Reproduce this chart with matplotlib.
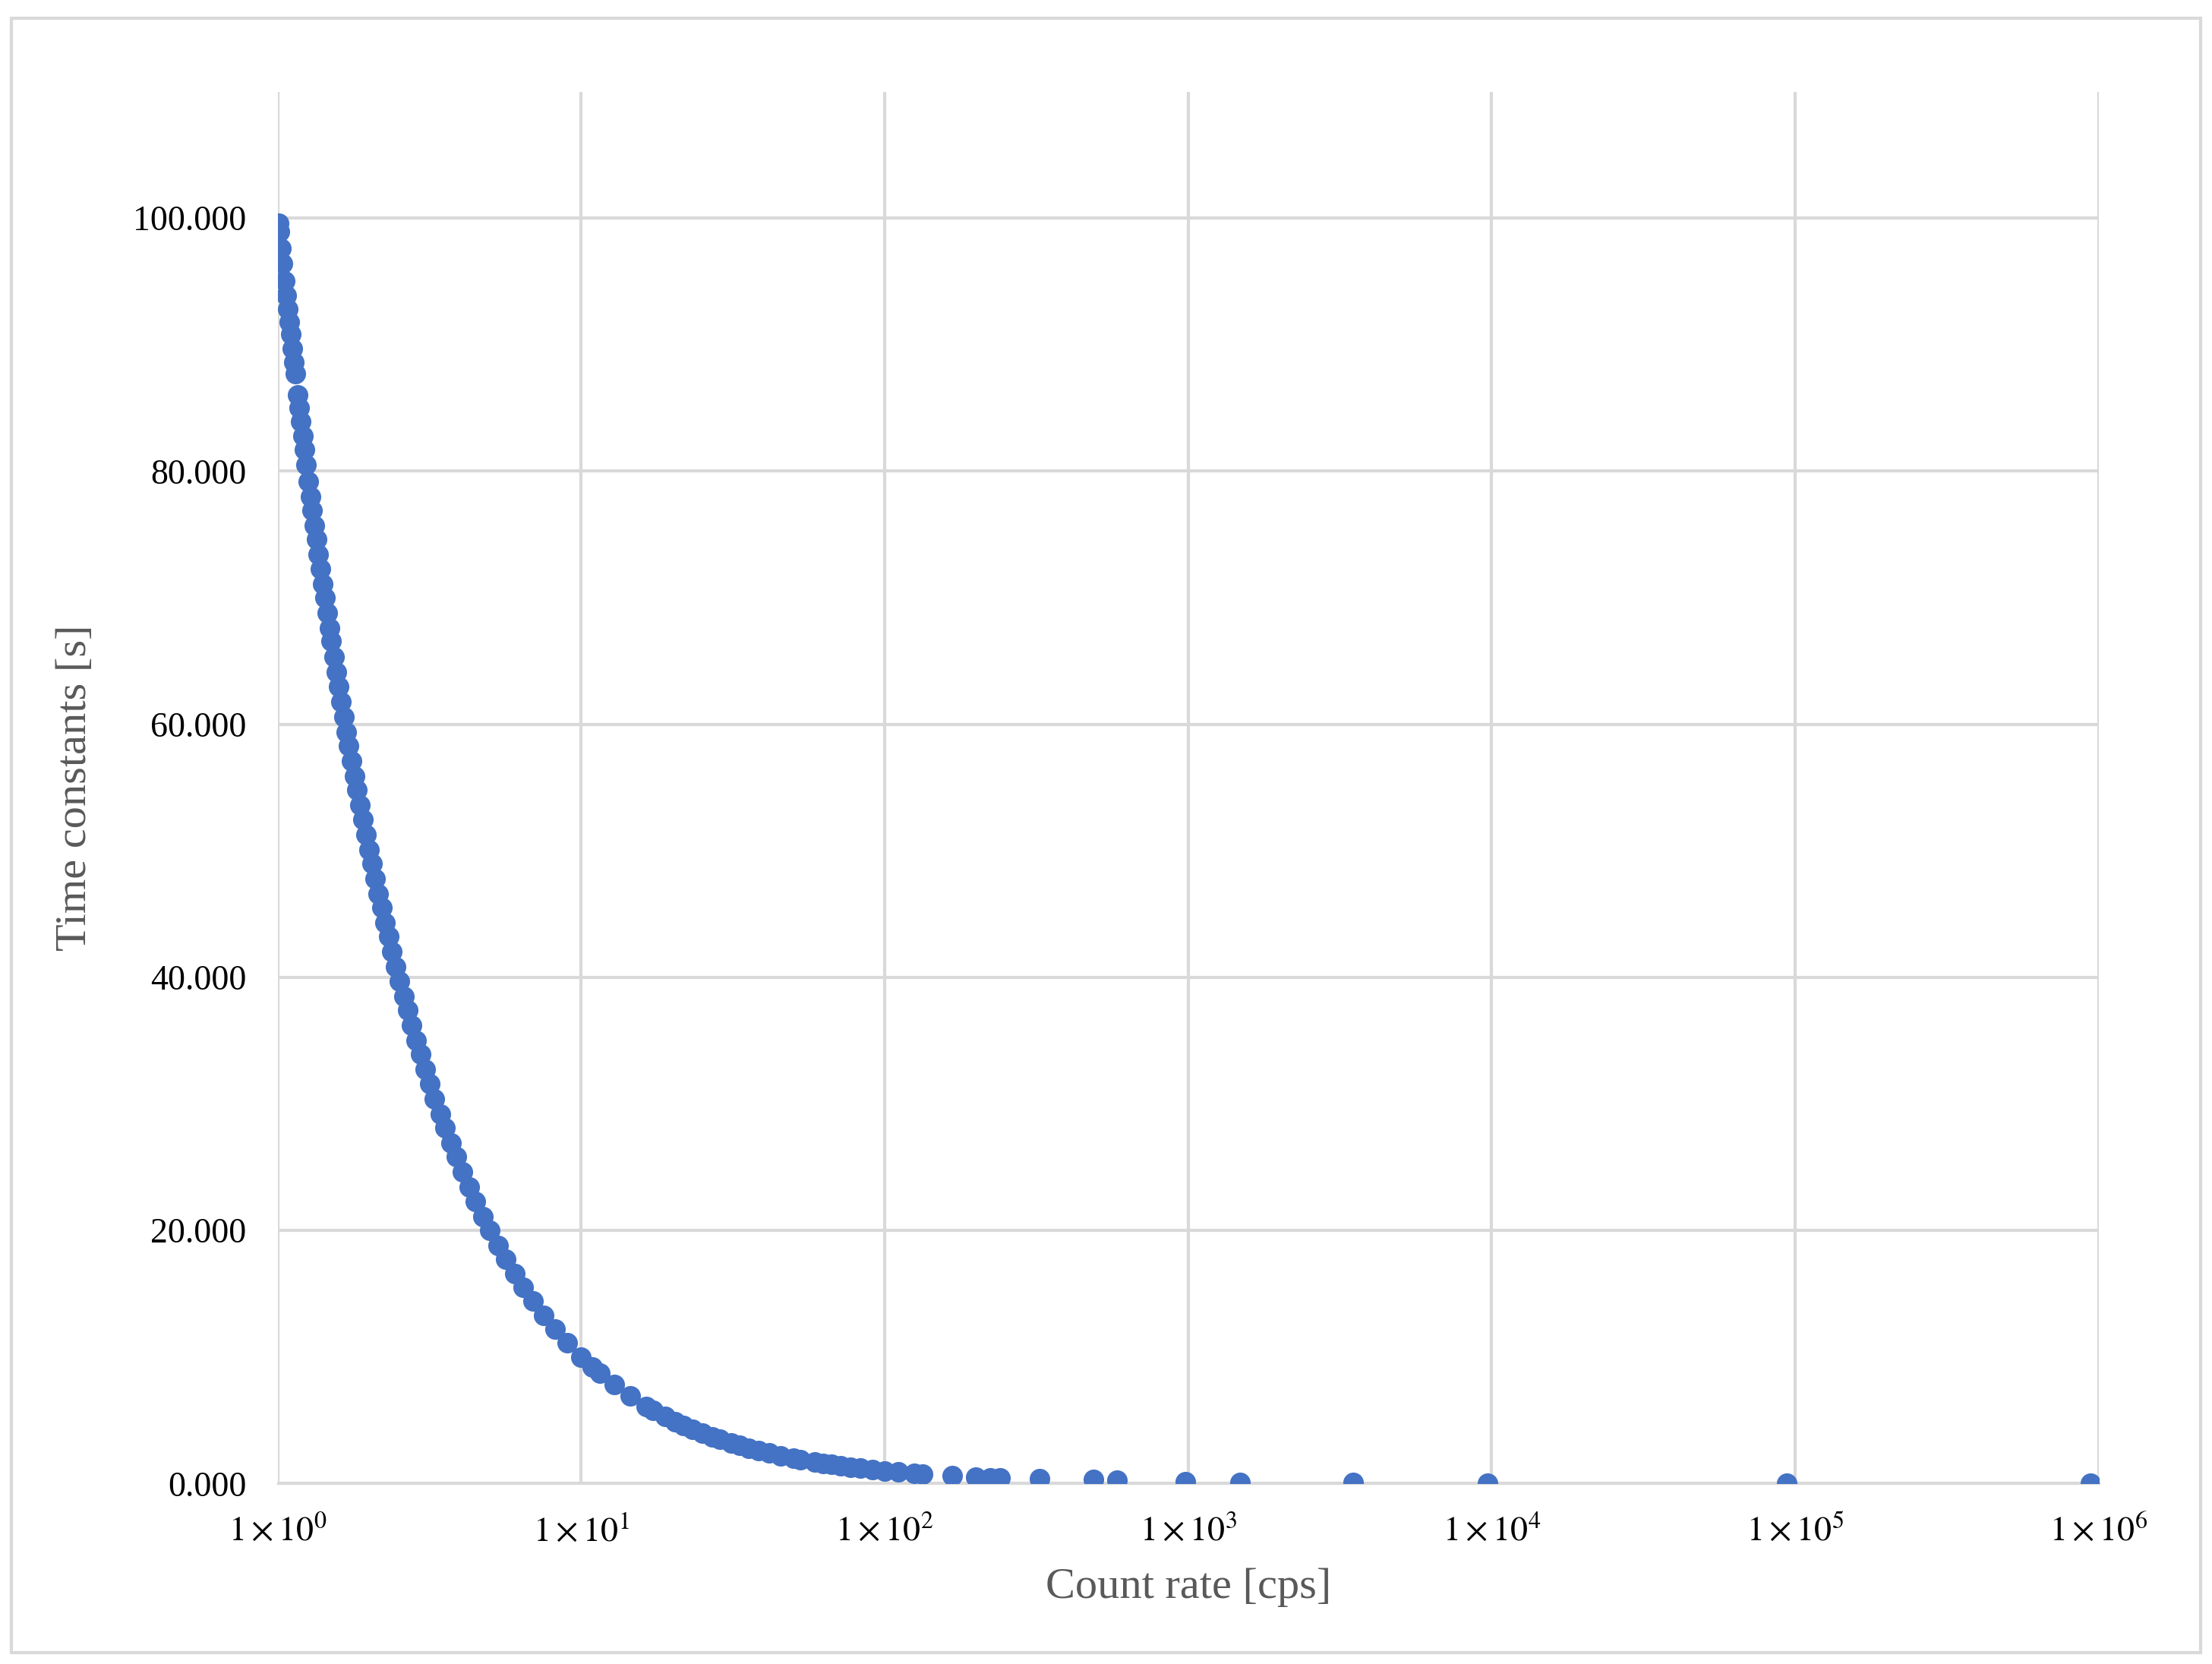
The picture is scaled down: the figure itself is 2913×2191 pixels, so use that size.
import math
import matplotlib
matplotlib.use("Agg")
import matplotlib.pyplot as plt
from matplotlib.ticker import FixedLocator, FuncFormatter
from matplotlib.patches import Rectangle

# Values
count_rate = [
    1.004, 1.011, 1.025, 1.037, 1.053, 1.065, 1.078, 1.089, 1.101, 1.115,
    1.129, 1.140, 1.163, 1.176, 1.192, 1.208, 1.224, 1.242, 1.263, 1.282,
    1.300, 1.321, 1.340, 1.362, 1.383, 1.406, 1.429, 1.453, 1.479, 1.502,
    1.531, 1.560, 1.587, 1.618, 1.650, 1.684, 1.715, 1.751, 1.789, 1.825,
    1.866, 1.905, 1.949, 1.996, 2.041, 2.092, 2.146, 2.198, 2.257, 2.315,
    2.381, 2.451, 2.519, 2.597, 2.674, 2.762, 2.857, 2.950, 3.058, 3.165,
    3.289, 3.425, 3.559, 3.717, 3.876, 4.065, 4.274, 4.484, 4.739, 5.000,
    5.319, 5.650, 6.024, 6.452, 6.944, 7.519, 8.197, 9.009, 10.0, 10.87,
    11.49, 12.82, 14.49, 16.39, 17.24, 18.87, 20.41, 21.74, 23.26, 25.0,
    27.03, 28.57, 31.25, 33.33, 35.71, 38.46, 41.67, 45.45, 50.0, 52.63,
    58.82, 62.5, 66.67, 71.43, 76.92, 83.33, 90.91, 100, 111, 125,
    133, 167, 200, 222, 240,
    324, 488, 584, 980, 1480, 3500, 9700, 94000, 940000,
]
time_constant = [
    99.6, 98.9, 97.6, 96.4, 95.0, 93.9, 92.8, 91.8, 90.8, 89.7,
    88.6, 87.7, 86.0, 85.0, 83.9, 82.8, 81.7, 80.5, 79.2, 78.0,
    76.9, 75.7, 74.6, 73.4, 72.3, 71.1, 70.0, 68.8, 67.6, 66.6,
    65.3, 64.1, 63.0, 61.8, 60.6, 59.4, 58.3, 57.1, 55.9, 54.8,
    53.6, 52.5, 51.3, 50.1, 49.0, 47.8, 46.6, 45.5, 44.3, 43.2,
    42.0, 40.8, 39.7, 38.5, 37.4, 36.2, 35.0, 33.9, 32.7, 31.6,
    30.4, 29.2, 28.1, 26.9, 25.8, 24.6, 23.4, 22.3, 21.1, 20.0,
    18.8, 17.7, 16.6, 15.5, 14.4, 13.3, 12.2, 11.1, 10.0, 9.2,
    8.7, 7.8, 6.9, 6.1, 5.8, 5.3, 4.9, 4.6, 4.3, 4.0,
    3.7, 3.5, 3.2, 3.0, 2.8, 2.6, 2.4, 2.2, 2.0, 1.9,
    1.7, 1.6, 1.5, 1.4, 1.3, 1.2, 1.1, 1.0, 0.9, 0.8,
    0.75, 0.6, 0.5, 0.45, 0.42,
    0.35, 0.3, 0.28, 0.15, 0.1, 0.05, 0.03, 0.01, 0.005,
]
y_ticks = [0, 20, 40, 60, 80, 100]
x_exponents = [0, 1, 2, 3, 4, 5, 6]

plt.rcParams["font.family"] = ["Liberation Serif", "DejaVu Serif"]
plt.rcParams["mathtext.fontset"] = "stix"

fig = plt.figure(figsize=(2913 / 300, 2191 / 300), dpi=300)
ax = fig.add_axes([0.1256, 0.1085, 0.9487 - 0.1256, 0.945 - 0.1085])

ax.plot(count_rate, time_constant, "o", color="#4472C4", markersize=6.5,
        markeredgewidth=0, zorder=3)

ax.set_xscale("log")
ax.set_xlim(1, 1e6)
ax.set_ylim(0, 110)
ax.xaxis.set_major_locator(FixedLocator([10.0 ** e for e in x_exponents]))
ax.xaxis.set_minor_locator(FixedLocator([]))
ax.xaxis.set_major_formatter(FuncFormatter(
    lambda v, p: r"$1\times10^{%d}$" % round(math.log10(v))))
ax.yaxis.set_major_locator(FixedLocator(y_ticks))
ax.yaxis.set_major_formatter(FuncFormatter(lambda v, p: f"{v:.3f}"))

ax.grid(True, color="#D9D9D9", linewidth=1.0)
ax.set_axisbelow(True)
for side in ["top", "right", "left"]:
    ax.spines[side].set_visible(False)
ax.spines["bottom"].set_color("#D9D9D9")
ax.tick_params(length=0, labelsize=11, colors="black", pad=10)

ax.set_xlabel("Count rate [cps]", fontsize=14, color="#595959", labelpad=6)
ax.set_ylabel("Time constants [s]", fontsize=14, color="#595959", labelpad=12)

fig.patches.append(Rectangle((0.005, 0.007), 0.99, 0.982, transform=fig.transFigure,
                             fill=False, edgecolor="#D9D9D9", linewidth=1.0))

fig.savefig("out.png", dpi=300)
plt.close(fig)
